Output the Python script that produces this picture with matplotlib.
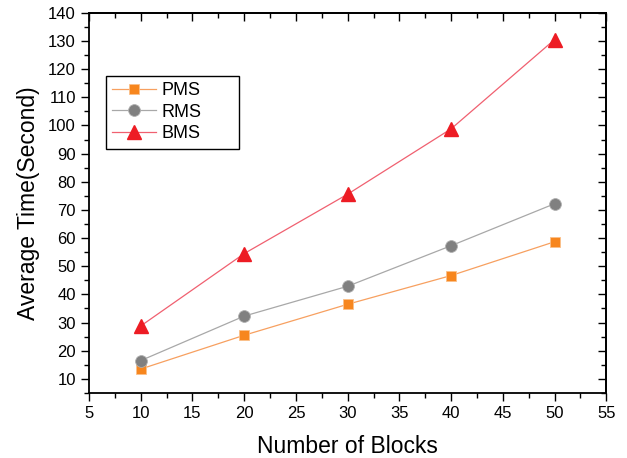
import matplotlib
matplotlib.use('Agg')
import matplotlib.pyplot as plt
from matplotlib.ticker import MultipleLocator

plt.rcParams['font.family'] = ['Liberation Sans', 'DejaVu Sans']

blocks = [10, 20, 30, 40, 50]
pms = [13.5, 25.5, 36.5, 46.7, 58.7]
rms = [16.5, 32.3, 42.9, 57.3, 72.2]
bms = [28.8, 54.5, 75.6, 98.8, 130.5]

fig = plt.figure(figsize=(6.27, 4.58), dpi=100)
ax = fig.add_axes([0.142, 0.142, 0.825, 0.830])

ax.plot(blocks, pms, color='#F7A060', lw=0.9, marker='s', ms=7.5, mfc='#F7861E', mec='#FBC08A', mew=0.6, label='PMS')
ax.plot(blocks, rms, color='#A8A8A8', lw=0.9, marker='o', ms=8.5, mfc='#808080', mec='#B0B0B0', mew=0.6, label='RMS')
ax.plot(blocks, bms, color='#F06070', lw=0.9, marker='^', ms=9.5, mfc='#ED1C24', mec='#ED1C24', label='BMS')

ax.set_xlim(5, 55)
ax.set_ylim(5, 140)
ax.xaxis.set_major_locator(MultipleLocator(5))
ax.xaxis.set_minor_locator(MultipleLocator(2.5))
ax.set_yticks(range(10, 141, 10))
ax.yaxis.set_minor_locator(MultipleLocator(5))

# bottom/left ticks out, top/right ticks in
ax.tick_params(which='both', direction='out', labelsize=12, width=1)
ax.tick_params(which='major', length=6)
ax.tick_params(which='minor', length=3.5)
ax2 = ax.secondary_xaxis('top')
ax2.xaxis.set_major_locator(MultipleLocator(5))
ax2.xaxis.set_minor_locator(MultipleLocator(2.5))
ax2.tick_params(which='both', direction='in', labeltop=False, width=1)
ax2.tick_params(which='major', length=6)
ax2.tick_params(which='minor', length=3.5)
ay2 = ax.secondary_yaxis('right')
ay2.set_yticks(range(10, 141, 10))
ay2.yaxis.set_minor_locator(MultipleLocator(5))
ay2.tick_params(which='both', direction='in', labelright=False, width=1)
ay2.tick_params(which='major', length=6)
ay2.tick_params(which='minor', length=3.5)
for s in ax.spines.values():
    s.set_linewidth(1.3)
ax2.spines['top'].set_linewidth(1.3)
ay2.spines['right'].set_linewidth(1.3)

ax.set_xlabel('Number of Blocks', fontsize=16.5, labelpad=10)
ax.set_ylabel('Average Time(Second)', fontsize=16.5, labelpad=6)

# legend box stretched to the width seen in the original
leg = ax.legend(loc='upper left', bbox_to_anchor=(0.033, 0.5, 0.257, 0.334), mode='expand',
                borderaxespad=0, fontsize=13, frameon=True, fancybox=False,
                edgecolor='black', framealpha=1, borderpad=0.35, labelspacing=0.25,
                handlelength=2.4, handletextpad=0.3)
leg.get_frame().set_linewidth(1.0)

fig.savefig('out.png', dpi=100)
